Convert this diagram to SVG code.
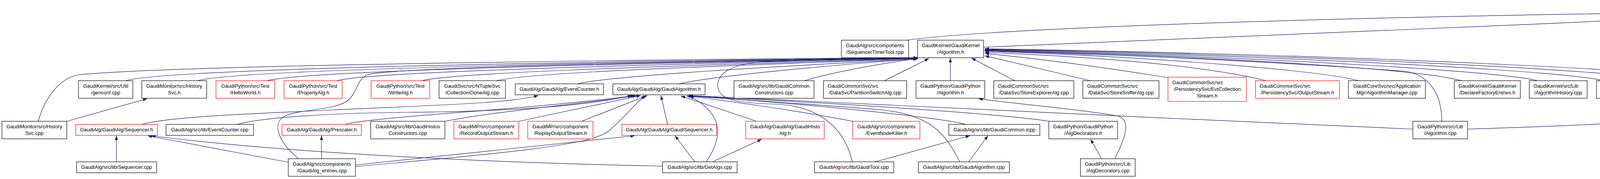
<svg xmlns="http://www.w3.org/2000/svg" width="5367" height="459" viewBox="0 0 5367 459">
<style>
.e path{fill:none;stroke:#191970;stroke-width:1.2;marker-end:url(#ah)}
.n rect{fill:#fff;stroke:#000;stroke-width:1.2}
.n.r rect{stroke:#ff0000}
.n.g rect{fill:#bfbfbf}
text{font-family:"Liberation Sans",Arial,Helvetica,sans-serif;font-size:13px;fill:#000}
.c{text-anchor:middle}
</style>
<defs>
<marker id="ah" viewBox="0 0 11 8" refX="11" refY="4" markerWidth="11" markerHeight="8" markerUnits="userSpaceOnUse" orient="auto"><path d="M0,0L11,4L0,8z" fill="#191970"/></marker>
</defs>
<rect x="0" y="0" width="5367" height="459" fill="#fff"/>
<g id="edges" class="e">
<path d="M2518,121 C2900,108 3800,70 4534,33"/>
<path d="M2322,103 C2500,78 3200,45 4534,29"/>
<path d="M4723,103 L4657,53"/>
<path d="M4869,103 L4698,53"/>
<path d="M3757,331 C4200,318 4460,298 4545,272 C4605,250 4624,190 4623,53"/>
<path d="M4572,311 C4610,260 4634,190 4630,53"/>
<path d="M4830,207 L4907,149"/>
<path d="M4875,311 C4905,250 4930,190 4941,149"/>
<path d="M4847,311 L4812,253"/>
<path d="M5033,207 L4975,149"/>
<path d="M5197,207 L5022,149"/>
<path d="M4525,311 L4505,253"/>
<path d="M98,311 C112,258 148,202 200,192 C420,168 1600,153 2350,148"/>
<path d="M321,207 C420,178 1300,160 2350,148"/>
<path d="M505,207 C600,180 1450,161 2350,148"/>
<path d="M683,207 C780,181 1600,163 2350,149"/>
<path d="M861,207 C950,183 1700,165 2350,149"/>
<path d="M1079,207 C1170,184 1800,167 2350,150"/>
<path d="M1271,207 C1360,184 1900,168 2350,150"/>
<path d="M1478,215 C1560,194 2000,170 2350,151"/>
<path d="M1738,215 C1830,194 2150,165 2350,151"/>
<path d="M2059,207 C2150,180 2280,160 2348,150"/>
<path d="M764,407 C720,370 690,318 730,297 C770,280 860,282 890,258 C915,238 912,205 940,192 C990,172 1800,158 2350,149"/>
<path d="M2182,415 C2165,340 2110,272 1985,267 C1890,264 1845,258 1838,225 C1832,190 1870,165 1950,158 C2100,152 2250,150 2350,148"/>
<path d="M2264,207 L2378,150"/>
<path d="M2433,207 L2433,149"/>
<path d="M2598,207 L2487,149"/>
<path d="M2792,207 L2521,143"/>
<path d="M2990,199 C2800,168 2650,150 2521,137"/>
<path d="M3242,207 C3100,172 2850,148 2521,134"/>
<path d="M3478,207 C3390,183 3000,148 2521,131"/>
<path d="M3741,207 C3650,180 3200,148 2521,129"/>
<path d="M3936,207 C3860,185 3300,148 2521,128"/>
<path d="M4104,207 C4030,185 3400,146 2521,127"/>
<path d="M4265,207 C4190,186 3500,144 2521,126"/>
<path d="M4427,207 C4350,187 3600,143 2521,125"/>
<path d="M3691,311 C3691,255 3670,196 3600,183 C3300,160 2900,142 2521,130"/>
<path d="M362,319 C440,298 650,292 850,282 C1100,270 1300,266 1378,245"/>
<path d="M606,319 C680,300 850,290 1040,288 C1300,286 1500,272 1618,245"/>
<path d="M883,319 C960,298 1350,282 1624,245"/>
<path d="M1139,311 C1290,282 1500,266 1630,245"/>
<path d="M910,427 C1300,392 1515,372 1558,336 C1598,302 1625,266 1652,245"/>
<path d="M1328,311 L1640,245"/>
<path d="M1489,311 L1657,245"/>
<path d="M1709,319 L1692,245"/>
<path d="M1937,311 L1743,246"/>
<path d="M1808,415 C1855,345 1848,290 1765,246"/>
<path d="M2183,311 C2050,285 1860,258 1757,246"/>
<path d="M2472,319 C2420,304 2100,268 1760,246"/>
<path d="M2686,311 C2550,290 2100,262 1761,246"/>
<path d="M2457,415 C2420,340 2380,295 2259,282 C2100,268 1900,256 1762,246"/>
<path d="M3617,331 C3000,305 2300,270 1763,245"/>
<path d="M298,415 L298,348"/>
<path d="M738,416 L378,348"/>
<path d="M1696,426 C1300,418 750,395 387,348"/>
<path d="M171,311 L377,253"/>
<path d="M823,407 L823,348"/>
<path d="M910,423 L1625,348"/>
<path d="M1779,415 L1728,348"/>
<path d="M1824,415 L1950,357"/>
<path d="M2240,415 L2483,348"/>
<path d="M2480,415 L2529,348"/>
<path d="M2820,407 L2792,357"/>
<path d="M2854,407 C2885,345 2895,306 2860,297 C2750,278 2600,267 2505,253"/>
</g>
<g id="n_irndm" class="n g"><rect x="4534" y="6" width="169" height="46"/><text class="c" x="4618.5" y="24">GaudiKernel/GaudiKernel</text><text class="c" x="4618.5" y="41">/IRndmGenSvc.h</text></g>
<g id="n_seqtimer" class="n"><rect x="2154" y="103" width="172" height="45"/><text class="c" x="2240" y="121">GaudiAlg/src/components</text><text class="c" x="2240" y="138">/SequencerTimerTool.cpp</text></g>
<g id="n_algh" class="n"><rect x="2349" y="103" width="169" height="45"/><text class="c" x="2433.5" y="121">GaudiKernel/GaudiKernel</text><text class="c" x="2433.5" y="138">/Algorithm.h</text></g>
<g id="n_rndmgens" class="n"><rect x="4681" y="103" width="150" height="45"/><text x="4691" y="121">GaudiKernel/src/Lib</text><text class="c" x="4756" y="138">/RndmGenerators.cpp</text></g>
<g id="n_rndmsvch" class="n"><rect x="4854" y="103" width="187" height="45"/><text class="c" x="4947.5" y="121">GaudiSvc/src/RndmGenSvc</text><text class="c" x="4947.5" y="138">/RndmGenSvc.h</text></g>
<g id="n_genconf" class="n"><rect x="201" y="207" width="139" height="45"/><text class="c" x="270.5" y="225">GaudiKernel/src/Util</text><text class="c" x="270.5" y="242">/genconf.cpp</text></g>
<g id="n_histsvch" class="n"><rect x="363" y="207" width="166" height="45"/><text class="c" x="446" y="225">GaudiMonitor/src/History</text><text class="c" x="446" y="242">Svc.h</text></g>
<g id="n_hello" class="n r"><rect x="553" y="207" width="150" height="45"/><text class="c" x="628" y="225">GaudiPython/src/Test</text><text class="c" x="628" y="242">/HelloWorld.h</text></g>
<g id="n_propalg" class="n r"><rect x="727" y="207" width="149" height="45"/><text class="c" x="801.5" y="225">GaudiPython/src/Test</text><text class="c" x="801.5" y="242">/PropertyAlg.h</text></g>
<g id="n_writealg" class="n r"><rect x="950" y="207" width="150" height="45"/><text class="c" x="1025" y="225">GaudiPython/src/Test</text><text class="c" x="1025" y="242">/WriteAlg.h</text></g>
<g id="n_collclone" class="n"><rect x="1124" y="207" width="170" height="45"/><text class="c" x="1209" y="225">GaudiSvc/src/NTupleSvc</text><text class="c" x="1209" y="242">/CollectionCloneAlg.cpp</text></g>
<g id="n_evcounth" class="n"><rect x="1319" y="215" width="226" height="28"/><text class="c" x="1432" y="233">GaudiAlg/GaudiAlg/EventCounter.h</text></g>
<g id="n_gaudialgh" class="n"><rect x="1569" y="215" width="236" height="28"/><text class="c" x="1687" y="233">GaudiAlg/GaudiAlg/GaudiAlgorithm.h</text></g>
<g id="n_gccons" class="n"><rect x="1879" y="207" width="205" height="45"/><text class="c" x="1981.5" y="225">GaudiAlg/src/lib/GaudiCommon</text><text class="c" x="1981.5" y="242">Constructors.cpp</text></g>
<g id="n_partsw" class="n"><rect x="2108" y="207" width="213" height="45"/><text x="2119" y="225">GaudiCommonSvc/src</text><text class="c" x="2214.5" y="242">/DataSvc/PartitionSwitchAlg.cpp</text></g>
<g id="n_gpalgh" class="n"><rect x="2345" y="207" width="176" height="45"/><text class="c" x="2433" y="225">GaudiPython/GaudiPython</text><text class="c" x="2433" y="242">/Algorithm.h</text></g>
<g id="n_storeexp" class="n"><rect x="2544" y="207" width="205" height="45"/><text x="2555" y="225">GaudiCommonSvc/src</text><text class="c" x="2646.5" y="242">/DataSvc/StoreExplorerAlg.cpp</text></g>
<g id="n_storesniff" class="n"><rect x="2772" y="207" width="195" height="45"/><text x="2783" y="225">GaudiCommonSvc/src</text><text class="c" x="2869.5" y="242">/DataSvc/StoreSnifferAlg.cpp</text></g>
<g id="n_evtcoll" class="n r"><rect x="2990" y="198" width="201" height="62"/><text x="3001" y="215.5">GaudiCommonSvc/src</text><text class="c" x="3090.5" y="232.5">/PersistencySvc/EvtCollection</text><text class="c" x="3090.5" y="249.5">Stream.h</text></g>
<g id="n_outstream" class="n r"><rect x="3214" y="207" width="215" height="45"/><text x="3225" y="225">GaudiCommonSvc/src</text><text class="c" x="3321.5" y="242">/PersistencySvc/OutputStream.h</text></g>
<g id="n_algmgr" class="n"><rect x="3452" y="207" width="197" height="45"/><text class="c" x="3550.5" y="225">GaudiCoreSvc/src/Application</text><text class="c" x="3550.5" y="242">Mgr/AlgorithmManager.cpp</text></g>
<g id="n_declfact" class="n"><rect x="3723" y="207" width="169" height="45"/><text class="c" x="3807.5" y="225">GaudiKernel/GaudiKernel</text><text class="c" x="3807.5" y="242">/DeclareFactoryEntries.h</text></g>
<g id="n_alghist" class="n"><rect x="3915" y="207" width="148" height="45"/><text x="3926" y="225">GaudiKernel/src/Lib</text><text class="c" x="3989" y="242">/AlgorithmHistory.cpp</text></g>
<g id="n_algtool" class="n"><rect x="4087" y="207" width="135" height="45"/><text class="c" x="4154.5" y="225">GaudiKernel/src/Lib</text><text class="c" x="4154.5" y="242">/AlgTool.cpp</text></g>
<g id="n_bootstrap" class="n"><rect x="4246" y="207" width="137" height="45"/><text class="c" x="4314.5" y="225">GaudiKernel/src/Lib</text><text class="c" x="4314.5" y="242">/Bootstrap.cpp</text></g>
<g id="n_randalgh" class="n"><rect x="4406" y="207" width="150" height="45"/><text x="4417" y="225">GaudiPython/src/Test</text><text class="c" x="4481" y="242">/RandomNumberAlg.h</text></g>
<g id="n_heprndmgenh" class="n"><rect x="4702" y="207" width="187" height="45"/><text class="c" x="4795.5" y="225">GaudiSvc/src/RndmGenSvc</text><text class="c" x="4795.5" y="242">/HepRndmGenerator.h</text></g>
<g id="n_rndmsvccpp" class="n"><rect x="4963" y="207" width="188" height="45"/><text class="c" x="5057" y="225">GaudiSvc/src/RndmGenSvc</text><text class="c" x="5057" y="242">/RndmGenSvc.cpp</text></g>
<g id="n_heprndmeng" class="n"><rect x="5174" y="207" width="187" height="45"/><text class="c" x="5267.5" y="225">GaudiSvc/src/RndmGenSvc</text><text class="c" x="5267.5" y="242">/HepRndmEngines.cpp</text></g>
<g id="n_histsvccpp" class="n"><rect x="5" y="311" width="166" height="45"/><text class="c" x="88" y="329">GaudiMonitor/src/History</text><text class="c" x="88" y="346">Svc.cpp</text></g>
<g id="n_seqh" class="n r"><rect x="194" y="319" width="209" height="28"/><text class="c" x="298.5" y="337">GaudiAlg/GaudiAlg/Sequencer.h</text></g>
<g id="n_evcountcpp" class="n"><rect x="425" y="319" width="224" height="28"/><text class="c" x="537" y="337">GaudiAlg/src/lib/EventCounter.cpp</text></g>
<g id="n_prescaler" class="n r"><rect x="722" y="319" width="203" height="28"/><text class="c" x="823.5" y="337">GaudiAlg/GaudiAlg/Prescaler.h</text></g>
<g id="n_ghcons" class="n"><rect x="949" y="311" width="190" height="45"/><text class="c" x="1044" y="329">GaudiAlg/src/lib/GaudiHistos</text><text class="c" x="1044" y="346">Constructors.cpp</text></g>
<g id="n_recout" class="n r"><rect x="1162" y="311" width="166" height="45"/><text class="c" x="1245" y="329">GaudiMP/src/component</text><text class="c" x="1245" y="346">/RecordOutputStream.h</text></g>
<g id="n_repout" class="n r"><rect x="1351" y="311" width="167" height="45"/><text class="c" x="1434.5" y="329">GaudiMP/src/component</text><text class="c" x="1434.5" y="346">/ReplayOutputStream.h</text></g>
<g id="n_gseq" class="n r"><rect x="1592" y="319" width="242" height="28"/><text class="c" x="1713" y="337">GaudiAlg/GaudiAlg/GaudiSequencer.h</text></g>
<g id="n_ghistoalg" class="n r"><rect x="1909" y="311" width="201" height="45"/><text class="c" x="2009.5" y="329">GaudiAlg/GaudiAlg/GaudiHisto</text><text class="c" x="2009.5" y="346">Alg.h</text></g>
<g id="n_evnodekill" class="n r"><rect x="2183" y="311" width="172" height="45"/><text class="c" x="2269" y="329">GaudiAlg/src/components</text><text class="c" x="2269" y="346">/EventNodeKiller.h</text></g>
<g id="n_gcicpp" class="n"><rect x="2429" y="319" width="233" height="28"/><text class="c" x="2545.5" y="337">GaudiAlg/src/lib/GaudiCommon.icpp</text></g>
<g id="n_algdech" class="n"><rect x="2685" y="311" width="176" height="45"/><text class="c" x="2773" y="329">GaudiPython/GaudiPython</text><text class="c" x="2773" y="346">/AlgDecorators.h</text></g>
<g id="n_gpalgcpp" class="n"><rect x="3617" y="311" width="140" height="45"/><text class="c" x="3687" y="329">GaudiPython/src/Lib</text><text class="c" x="3687" y="346">/Algorithm.cpp</text></g>
<g id="n_randalgcpp" class="n"><rect x="4456" y="311" width="165" height="45"/><text x="4467" y="329">GaudiPython/src/Test</text><text class="c" x="4538.5" y="346">/RandomNumberAlg.cpp</text></g>
<g id="n_heprndmgens" class="n"><rect x="4768" y="311" width="187" height="45"/><text class="c" x="4861.5" y="329">GaudiSvc/src/RndmGenSvc</text><text class="c" x="4861.5" y="346">/HepRndmGenerators.cpp</text></g>
<g id="n_seqcpp" class="n"><rect x="196" y="415" width="205" height="28"/><text class="c" x="298.5" y="433">GaudiAlg/src/lib/Sequencer.cpp</text></g>
<g id="n_entries" class="n"><rect x="738" y="407" width="172" height="45"/><text class="c" x="824" y="425">GaudiAlg/src/components</text><text class="c" x="824" y="442">/GaudiAlg_entries.cpp</text></g>
<g id="n_getalgs" class="n"><rect x="1696" y="415" width="191" height="28"/><text class="c" x="1791.5" y="433">GaudiAlg/src/lib/GetAlgs.cpp</text></g>
<g id="n_gtool" class="n"><rect x="2085" y="415" width="203" height="28"/><text class="c" x="2186.5" y="433">GaudiAlg/src/lib/GaudiTool.cpp</text></g>
<g id="n_galgcpp" class="n"><rect x="2351" y="415" width="233" height="28"/><text class="c" x="2467.5" y="433">GaudiAlg/src/lib/GaudiAlgorithm.cpp</text></g>
<g id="n_algdeccpp" class="n"><rect x="2766" y="407" width="140" height="45"/><text class="c" x="2836" y="425">GaudiPython/src/Lib</text><text class="c" x="2836" y="442">/AlgDecorators.cpp</text></g>
</svg>
